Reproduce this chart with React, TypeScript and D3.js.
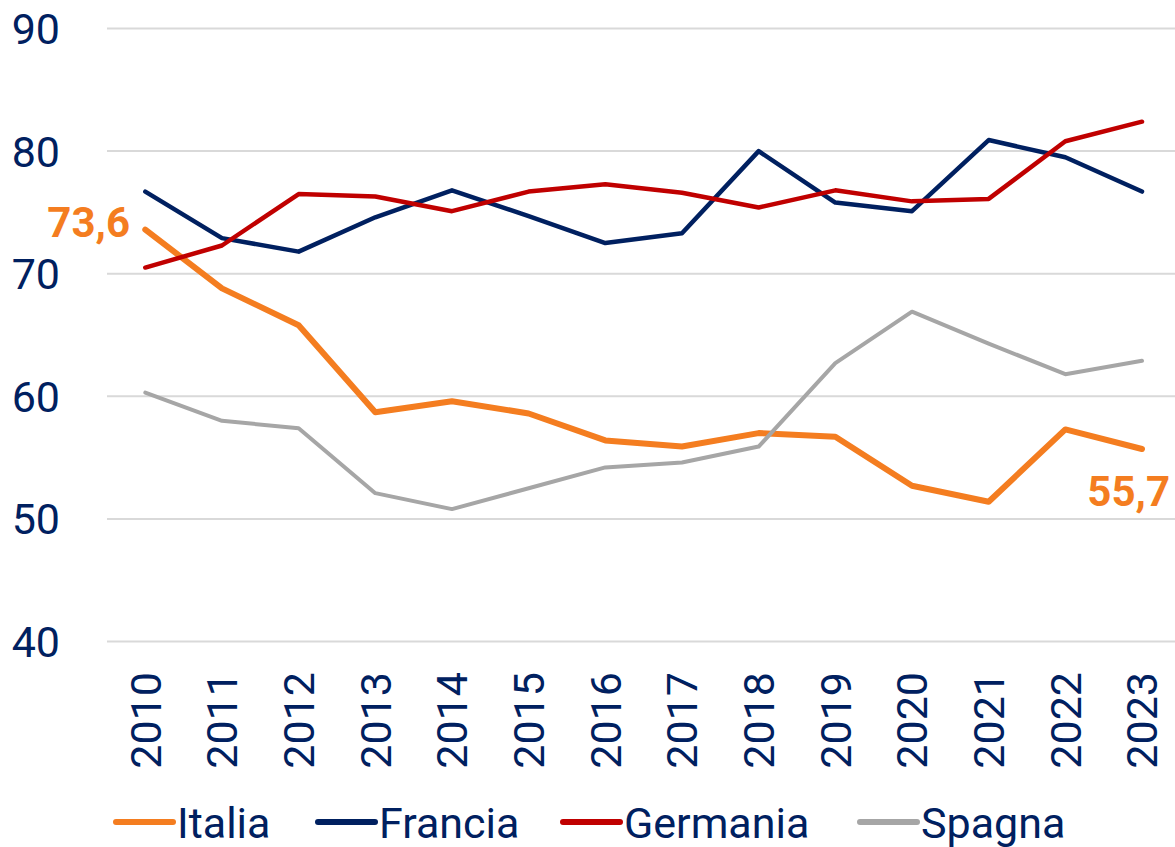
import React from "react";
import * as d3 from "d3";

const years = ["2010","2011","2012","2013","2014","2015","2016","2017","2018","2019","2020","2021","2022","2023"];
const italia = [73.6, 68.8, 65.8, 58.7, 59.6, 58.6, 56.4, 55.9, 57.0, 56.7, 52.7, 51.4, 57.3, 55.7];
const francia = [76.7, 72.9, 71.8, 74.6, 76.8, 74.7, 72.5, 73.3, 80.0, 75.8, 75.1, 80.9, 79.5, 76.7];
const germania = [70.5, 72.3, 76.5, 76.3, 75.1, 76.7, 77.3, 76.6, 75.4, 76.8, 75.9, 76.1, 80.8, 82.4];
const spagna = [60.3, 58.0, 57.4, 52.1, 50.8, 52.5, 54.2, 54.6, 55.9, 62.7, 66.9, 64.3, 61.8, 62.9];
const yTicks = [40, 50, 60, 70, 80, 90];

const series = [
  { name: "Italia", values: italia, color: "#F47D20", width: 6 },
  { name: "Francia", values: francia, color: "#002060", width: 4.5 },
  { name: "Germania", values: germania, color: "#C00000", width: 4.5 },
  { name: "Spagna", values: spagna, color: "#A6A6A6", width: 4 },
];
const legendX = [116, 318, 563, 860];

const W = 1175, H = 847;
const FONT = "Roboto, 'Noto Sans', sans-serif";
const NAVY = "#002060";

export default function App() {
  const x = d3.scalePoint<string>().domain(years).range([145.3, 1142]);
  const y = d3.scaleLinear().domain([40, 90]).range([641.5, 28.5]);
  const line = d3.line<number>().x((_, i) => x(years[i])!).y((d) => y(d));

  return (
    <div style={{ position: "absolute", left: 0, top: 0 }}>
      <svg width={W} height={H} style={{ display: "block", background: "#fff" }} fontFamily={FONT}>
        {yTicks.map((t) => (
          <g key={t}>
            <line x1={107} x2={W} y1={y(t)} y2={y(t)} stroke="#D9D9D9" strokeWidth={2} />
            <text x={60} y={y(t)} dy="0.36em" textAnchor="end" fontSize={43} fill={NAVY}>{t}</text>
          </g>
        ))}
        {years.map((yr) => (
          <text key={yr} transform={`translate(${x(yr)},672) rotate(-90)`} textAnchor="end" dy="0.36em" fontSize={43} fill={NAVY}>{yr}</text>
        ))}
        {series.map((s) => (
          <path key={s.name} d={line(s.values)!} fill="none" stroke={s.color} strokeWidth={s.width} strokeLinecap="round" strokeLinejoin="round" />
        ))}
        <text x={130} y={y(italia[0]) + 7} textAnchor="end" fontSize={42} fontWeight="bold" fill="#F47D20">73,6</text>
        <text x={1170} y={506} textAnchor="end" fontSize={42} fontWeight="bold" fill="#F47D20">55,7</text>
        {series.map((s, i) => (
          <g key={s.name}>
            <line x1={legendX[i]} x2={legendX[i] + 57} y1={822} y2={822} stroke={s.color} strokeWidth={6} strokeLinecap="round" />
            <text x={legendX[i] + 61} y={838} fontSize={43} fill={NAVY}>{s.name}</text>
          </g>
        ))}
      </svg>
    </div>
  );
}
